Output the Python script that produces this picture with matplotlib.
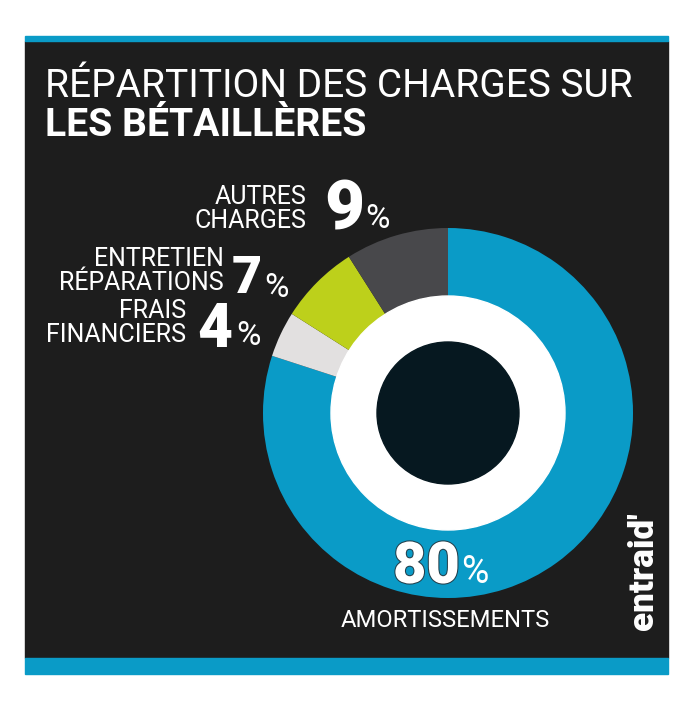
import matplotlib
matplotlib.use('Agg')
import matplotlib.pyplot as plt
import matplotlib.patheffects as pe
from matplotlib.patches import Rectangle, Circle

# data
labels = ['AMORTISSEMENTS', 'FRAIS\nFINANCIERS', 'ENTRETIEN\nRÉPARATIONS', 'AUTRES\nCHARGES']
values = [80, 4, 7, 9]
colors = ['#0a9bc7', '#e2e0e0', '#bdd01b', '#48484b']

W, H = 700, 705
fig = plt.figure(figsize=(W / 100, H / 100), dpi=100)
ax = fig.add_axes([0, 0, 1, 1])

def Y(y):
  # pixel row (from top) -> data y
  return H - y

# panel
ax.add_patch(Rectangle((25, Y(658)), 643, 658 - 41, color='#1d1d1d', zorder=0))
ax.add_patch(Rectangle((25, Y(41)), 643, 5, color='#0a9bc7', zorder=0))
ax.add_patch(Rectangle((25, Y(674)), 643, 16, color='#0a9bc7', zorder=0))

# donut
cx, cy = 448, Y(413)
ax.pie(values, colors=colors, startangle=90, counterclock=False,
       center=(cx, cy), radius=185, wedgeprops=dict(width=70, linewidth=0))
ax.add_patch(Circle((cx, cy), 117, color='white', zorder=3))
ax.add_patch(Circle((cx, cy), 71, color='#061820', zorder=4))

ax.set_xlim(0, W)
ax.set_ylim(0, H)
ax.set_aspect('auto')
ax.axis('off')

fig.canvas.draw()
r = fig.canvas.get_renderer()

def fit(t, width):
  # scale font so the text spans the given pixel width
  w = t.get_window_extent(r).width
  t.set_fontsize(t.get_fontsize() * width / w)

narrow = ['Liberation Sans Narrow', 'Roboto']

# title
t1 = ax.text(45, Y(97), 'RÉPARTITION DES CHARGES SUR', color='white', fontsize=28,
             family=narrow, va='baseline')
fit(t1, 588)
t2 = ax.text(45, Y(136), 'LES BÉTAILLÈRES', color='white', fontsize=28,
             family=narrow, weight='bold', va='baseline')
fit(t2, 322)

# side labels
lab_font = dict(color='white', family='Roboto', fontsize=18, ha='right',
                va='baseline', linespacing=1.0)
big_font = dict(color='white', family='Roboto', weight='black', va='baseline')
pct_font = dict(color='white', family='Roboto', fontsize=24, va='baseline')

side = [
  (3, 306, 228, 324, 229, 365, 228, 40),
  (2, 224, 290, 232, 293, 264, 297, 30),
  (1, 186, 342, 197, 347, 236, 345, 35),
]
for i, lx, ly, bx, by, px, py, bw in side:
  ax.text(lx, Y(ly), labels[i], **lab_font)
  b = ax.text(bx, Y(by), str(values[i]), fontsize=40, **big_font)
  fit(b, bw)
  ax.text(px, Y(py), '%', **pct_font)

b = ax.text(393, Y(583), str(values[0]), fontsize=44, zorder=6,
            path_effects=[pe.withStroke(linewidth=1.5, foreground='#24404c')], **big_font)
fit(b, 67)
ax.text(461, Y(583), '%', zorder=6, **{**pct_font, 'fontsize': 27})
t = ax.text(341, Y(627), labels[0], color='white', family='Roboto', fontsize=16,
            va='baseline')
fit(t, 210)

# logo
lg = ax.text(660, Y(630), "entraid'", color='white', family='Roboto', weight='black',
             fontsize=24, rotation=90, ha='right', va='bottom')
fig.canvas.draw()
h = lg.get_window_extent(r).height
lg.set_fontsize(lg.get_fontsize() * 118 / h)

fig.savefig('out.png', dpi=100, facecolor='white')
